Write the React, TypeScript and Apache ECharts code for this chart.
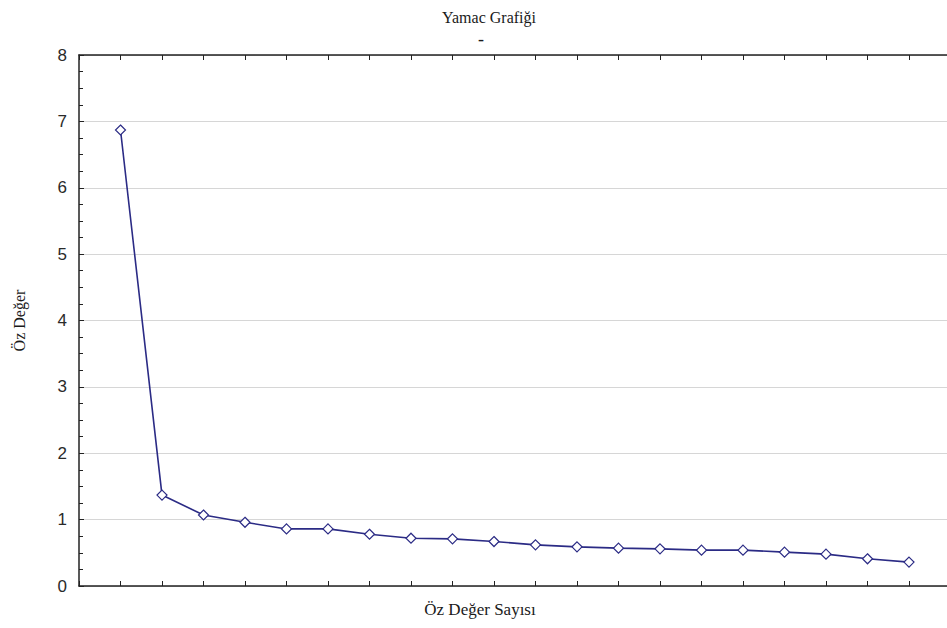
import React, { useEffect, useRef } from "react";
import * as echarts from "echarts";

const componentNumbers = [1, 2, 3, 4, 5, 6, 7, 8, 9, 10, 11, 12, 13, 14, 15, 16, 17, 18, 19, 20];
const eigenValues = [6.87, 1.37, 1.07, 0.96, 0.86, 0.86, 0.78, 0.72, 0.71, 0.67, 0.62, 0.59, 0.57, 0.56, 0.54, 0.54, 0.51, 0.48, 0.41, 0.36];
const titleText = "Yamac Grafiği";
const xName = "Öz Değer Sayısı";
const yName = "Öz Değer";

export default function App() {
  const ref = useRef<HTMLDivElement>(null);
  useEffect(() => {
    if (!ref.current) return;
    const chart = echarts.init(ref.current, undefined, { renderer: "svg" });
    const lineColor = "#2b2b85";
    chart.setOption({
      animation: false,
      backgroundColor: "#ffffff",
      title: {
        text: titleText,
        left: 484,
        textAlign: "center",
        top: 4,
        textStyle: { fontFamily: "Liberation Serif", fontSize: 16, fontWeight: "normal", color: "#1a1a1a" },
      },
      graphic: [
        {
          type: "text",
          x: 481,
          y: 30,
          style: { text: "-", fontFamily: "Liberation Serif", fontSize: 18, fill: "#1a1a1a", align: "center" },
        },
        {
          type: "text",
          x: 480,
          y: 601,
          style: { text: xName, fontFamily: "Liberation Serif", fontSize: 17, fill: "#1a1a1a", align: "center" },
        },
      ],
      grid: { left: 79, top: 55, right: 9.5, bottom: 42, containLabel: false },
      xAxis: [
        {
          type: "value",
          min: 0,
          max: 21,
          interval: 1,
          axisLine: { show: true, lineStyle: { color: "#222", width: 1.5 } },
          axisTick: { show: true, inside: true, length: 5, lineStyle: { color: "#222" } },
          axisLabel: { show: false },
          splitLine: { show: false },
        },
        {
          type: "value",
          position: "top",
          min: 0,
          max: 21,
          interval: 1,
          axisLine: { show: true, lineStyle: { color: "#222", width: 1.5 } },
          axisTick: { show: true, inside: true, length: 5, lineStyle: { color: "#222" } },
          axisLabel: { show: false },
          splitLine: { show: false },
        },
      ],
      yAxis: {
        type: "value",
        min: 0,
        max: 8,
        interval: 1,
        name: yName,
        nameLocation: "middle",
        nameRotate: 90,
        nameGap: 52,
        nameTextStyle: { fontFamily: "Liberation Serif", fontSize: 16, color: "#1a1a1a" },
        axisLine: { show: true, lineStyle: { color: "#222", width: 1.5 } },
        axisTick: { show: true, inside: true, length: 5, lineStyle: { color: "#222" } },
        minorTick: { show: true, splitNumber: 4, length: 4, lineStyle: { color: "#222" } },
        axisLabel: { fontFamily: "Liberation Sans", fontSize: 17, color: "#2a2a2a", margin: 12 },
        splitLine: { show: true, lineStyle: { color: "#d6d6d6", width: 1 } },
      },
      series: [
        {
          type: "line",
          data: componentNumbers.map((n, i) => [n, eigenValues[i]]),
          symbol: "diamond",
          symbolSize: 10,
          lineStyle: { color: lineColor, width: 1.6 },
          itemStyle: { color: "#ffffff", borderColor: lineColor, borderWidth: 1.2 },
          z: 5,
        },
      ],
    });
    return () => chart.dispose();
  }, []);
  return (
    <div style={{ position: "absolute", left: 0, top: 0, width: 947, height: 628, overflow: "hidden", background: "#fff" }}>
      <div ref={ref} style={{ width: 960, height: 628 }} />
    </div>
  );
}
